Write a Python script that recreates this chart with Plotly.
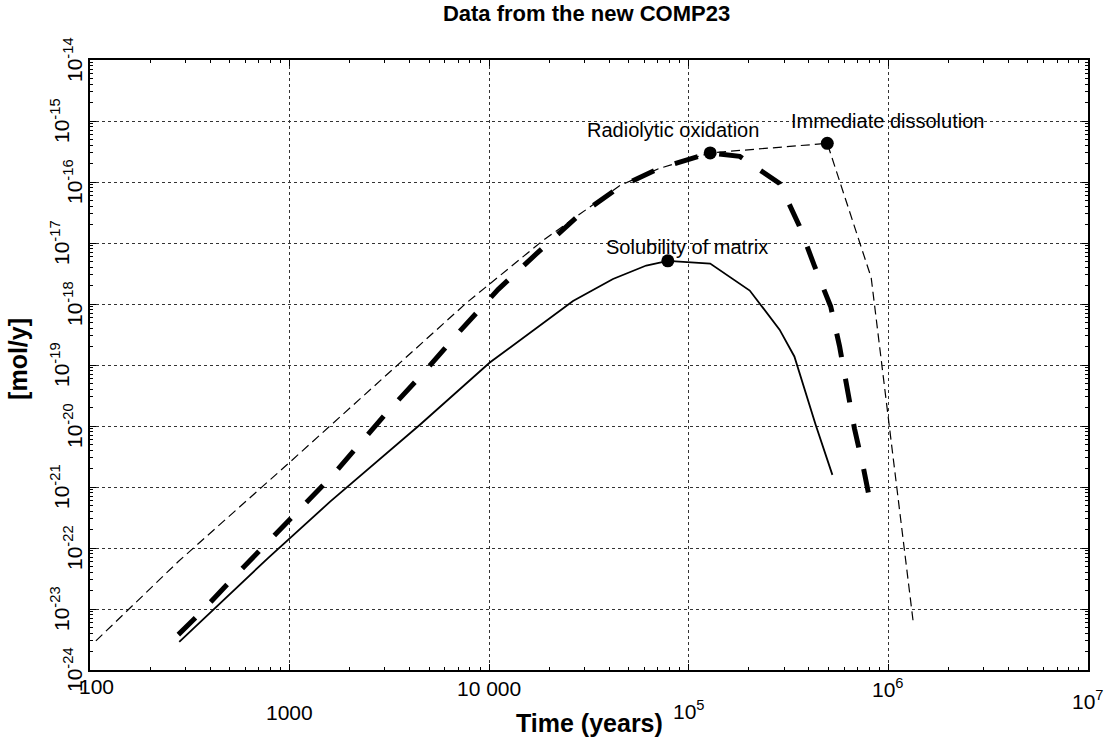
import math
import plotly.graph_objects as go

# ---- data ----
sol_t = [280, 432, 782, 1596, 4498, 10070, 26300, 41700, 61200, 78500,
         128000, 202000, 285000, 338000, 432000, 524000]
sol_v = [2.9e-24, 1.12e-23, 6.9e-23, 5.75e-22, 1.05e-20, 1.1e-19, 1.12e-18,
         2.57e-18, 4.27e-18, 5.1e-18, 4.6e-18, 1.66e-18, 3.8e-19, 1.38e-19,
         1.05e-20, 1.58e-21]

rad_t = [277, 348, 547, 1630, 3070, 4680, 7130, 11100, 17600, 27400, 45000,
         70800, 128000, 180000, 285000, 358000, 425000, 514000, 569000,
         621000, 676000, 752000, 826000]
rad_v = [3.8e-24, 7.9e-24, 3.8e-23, 1.51e-21, 1.66e-20, 7.4e-20, 3.6e-19,
         1.74e-18, 7.1e-18, 2.63e-17, 8.3e-17, 1.66e-16, 3.0e-16, 2.63e-16,
         9.5e-17, 1.9e-17, 4.3e-18, 9.1e-19, 2.04e-19, 4.1e-20, 9.1e-21,
         1.95e-21, 4.2e-22]

imm_t = [107, 277, 989, 7710, 18600, 45000, 70800, 128000, 494000, 820000,
         1330000]
imm_v = [3.0e-24, 6.0e-23, 2.45e-21, 1.05e-18, 1.1e-17, 8.7e-17, 1.66e-16,
         3.0e-16, 4.3e-16, 2.7e-18, 6.3e-24]

dot_t = [78500, 128000, 494000]
dot_v = [5.1e-18, 3.0e-16, 4.3e-16]
dot_labels = ["Solubility of matrix", "Radiolytic oxidation", "Immediate dissolution"]

x_tick_vals = [100, 1000, 10000, 1e5, 1e6, 1e7]
x_tick_text = ["100", "1000", "10 000", "10<sup>5</sup>", "10<sup>6</sup>", "10<sup>7</sup>"]
y_tick_exps = [-14, -15, -16, -17, -18, -19, -20, -21, -22, -23, -24]

title = "Data from the new COMP23"
x_title = "Time (years)"
y_title = "[mol/y]"

FONT = "Liberation Sans, Arial, sans-serif"

fig = go.Figure()
fig.add_trace(go.Scatter(x=imm_t, y=imm_v, mode="lines",
                         line=dict(color="black", width=1.2, dash="9px,5px"),
                         showlegend=False))
fig.add_trace(go.Scatter(x=rad_t, y=rad_v, mode="lines",
                         line=dict(color="black", width=5, dash="24px,22px"),
                         showlegend=False))
fig.add_trace(go.Scatter(x=sol_t, y=sol_v, mode="lines",
                         line=dict(color="black", width=1.8),
                         showlegend=False))
fig.add_trace(go.Scatter(x=dot_t, y=dot_v, mode="markers",
                         marker=dict(color="black", size=13),
                         showlegend=False))

# point labels (log axes: annotation coordinates are log10 values)
label_shift = [(19, 14), (-37, 23), (60, 22)]
for t, v, lab, (dx, dy) in zip(dot_t, dot_v, dot_labels, label_shift):
    fig.add_annotation(x=math.log10(t), y=math.log10(v), xref="x", yref="y",
                       text=lab, showarrow=False, xshift=dx, yshift=dy,
                       xanchor="center",
                       font=dict(family=FONT, size=20, color="black"))

# x tick labels (staggered)
x_y_shift = [-16, -42, -18, -40, -18, -30]
x_x_shift = [6, 0, 0, 0, 0, 0]
for v, txt, dy, dx in zip(x_tick_vals, x_tick_text, x_y_shift, x_x_shift):
    fig.add_annotation(x=math.log10(v), y=0, xref="x", yref="paper", text=txt,
                       showarrow=False, yshift=dy, xshift=dx, yanchor="middle",
                       xanchor="center",
                       font=dict(family=FONT, size=21, color="black"))

# y tick labels (rotated, staggered)
for i, e in enumerate(y_tick_exps):
    dx = -17 if i % 2 == 0 else -30
    fig.add_annotation(x=0, y=e, xref="paper", yref="y",
                       text="10<sup>%d</sup>" % e, showarrow=False,
                       textangle=-90, xshift=dx, xanchor="center",
                       font=dict(family=FONT, size=21, color="black"))

fig.add_annotation(x=0.5, y=0, xref="paper", yref="paper", text="<b>" + x_title + "</b>",
                   showarrow=False, yshift=-53, yanchor="middle", xanchor="center",
                   font=dict(family=FONT, size=25, color="black"))
fig.add_annotation(x=0, y=0.51, xref="paper", yref="paper", text="<b>" + y_title + "</b>",
                   showarrow=False, xshift=-72, textangle=-90, xanchor="center",
                   font=dict(family=FONT, size=25, color="black"))

axis_common = dict(type="log", showline=True, linecolor="black", linewidth=1.5,
                   mirror="allticks", ticks="inside", ticklen=6, tickcolor="black",
                   showgrid=True, gridcolor="#333", griddash="dot", gridwidth=1,
                   showticklabels=False, zeroline=False,
                   minor=dict(ticks="inside", ticklen=3, tickcolor="black",
                              showgrid=False))

fig.update_xaxes(range=[2, 7], dtick=1, **axis_common)
fig.update_yaxes(range=[-24, -14], dtick=1, **axis_common)

fig.update_layout(
    width=1113, height=742,
    margin=dict(l=90, r=25, t=60, b=72),
    paper_bgcolor="white", plot_bgcolor="white",
    title=dict(text="<b>" + title + "</b>", x=0.527, xanchor="center", y=0.992, yanchor="top",
               font=dict(family=FONT, size=22, color="black")),
    showlegend=False,
)

fig.write_html("out.html")
